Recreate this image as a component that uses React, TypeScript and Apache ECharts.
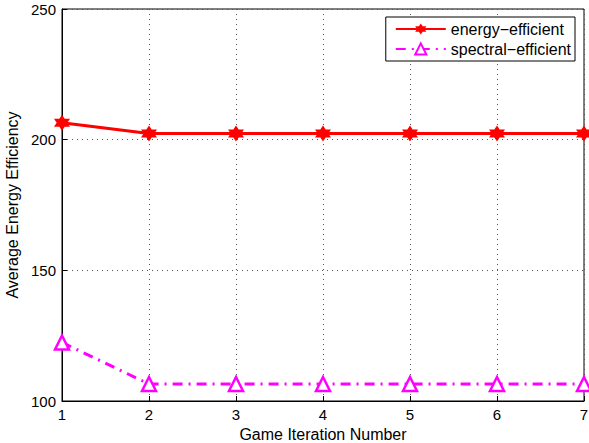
import React, { useEffect, useRef } from "react";
import * as echarts from "echarts";

const iterations = [1, 2, 3, 4, 5, 6, 7];
const energyEfficient = [206.5, 202.4, 202.4, 202.4, 202.4, 202.4, 202.4];
const spectralEfficient = [122.4, 106.5, 106.5, 106.5, 106.5, 106.5, 106.5];
const seriesNames = ["energy\u2212efficient", "spectral\u2212efficient"];

const star =
  "path://M0,-10 L2.887,-5 L8.66,-5 L5.774,0 L8.66,5 L2.887,5 L0,10 L-2.887,5 L-8.66,5 L-5.774,0 L-8.66,-5 L-2.887,-5 Z";

export default function App() {
  const ref = useRef<HTMLDivElement>(null);
  useEffect(() => {
    if (!ref.current) return;
    const chart = echarts.init(ref.current, undefined, { renderer: "svg" });
    const font = "Liberation Sans, Arial, Helvetica, sans-serif";
    const axisCommon = {
      axisLine: { show: true, lineStyle: { color: "#000", width: 1 } },
      axisTick: { show: true, inside: true, length: 5, lineStyle: { color: "#000" } },
      axisLabel: { color: "#000", fontSize: 15, fontFamily: font },
      splitLine: { show: true, lineStyle: { color: "#555", type: [1, 4], width: 1 } },
      nameTextStyle: { color: "#000", fontSize: 16, fontFamily: font },
    };
    chart.setOption({
      animation: false,
      backgroundColor: "#fff",
      grid: {
        left: 62,
        right: 5,
        top: 9,
        bottom: 42,
        show: true,
        borderColor: "#000",
        borderWidth: 1,
        backgroundColor: "transparent",
        containLabel: false,
        outerBoundsMode: "none",
      },
      xAxis: {
        type: "value",
        min: 1,
        max: 7,
        interval: 1,
        name: "Game Iteration Number",
        nameLocation: "middle",
        nameGap: 25,
        ...axisCommon,
        axisLabel: { ...axisCommon.axisLabel, margin: 6 },
      },
      yAxis: {
        type: "value",
        min: 100,
        max: 250,
        interval: 50,
        name: "Average Energy Efficiency",
        nameLocation: "middle",
        nameGap: 41,
        ...axisCommon,
        axisLabel: { ...axisCommon.axisLabel, margin: 6 },
      },
      legend: {
        orient: "vertical",
        right: 14,
        top: 17,
        itemWidth: 50,
        itemHeight: 14,
        itemGap: 4,
        padding: [4, 4, 4, 9],
        borderColor: "#000",
        borderWidth: 1,
        backgroundColor: "#fff",
        textStyle: { color: "#000", fontSize: 16, fontFamily: font },
        data: seriesNames,
      },
      series: [
        {
          name: seriesNames[0],
          type: "line",
          data: iterations.map((x, i) => [x, energyEfficient[i]]),
          symbol: star,
          symbolSize: 16,
          itemStyle: { color: "#ff0000" },
          lineStyle: { color: "#ff0000", width: 3 },
        },
        {
          name: seriesNames[1],
          type: "line",
          data: iterations.map((x, i) => [x, spectralEfficient[i]]),
          symbol: "triangle",
          symbolSize: 14,
          itemStyle: { color: "#ffffff", borderColor: "#ff00ff", borderWidth: 2.5 },
          lineStyle: { color: "#ff00ff", width: 3, type: [10, 6, 2, 6] },
        },
      ],
    });
    return () => chart.dispose();
  }, []);
  return (
    <div
      ref={ref}
      style={{ width: 589, height: 443, position: "fixed", left: 0, top: 0 }}
    />
  );
}
